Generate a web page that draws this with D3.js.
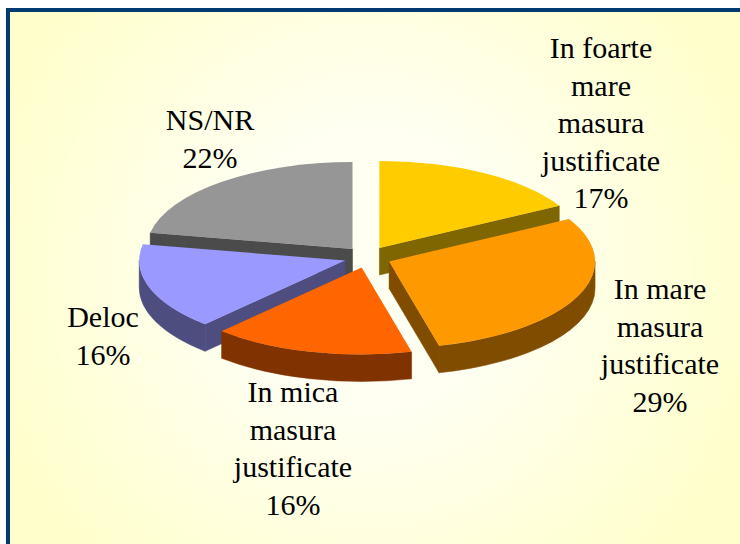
<!DOCTYPE html>
<html><head><meta charset="utf-8">
<script src="https://cdn.jsdelivr.net/npm/d3@7/dist/d3.min.js"></script>
<style>html,body{margin:0;padding:0;background:#fff}svg{display:block}text{font-family:"Liberation Serif",serif;font-size:30px;fill:#000;text-anchor:middle}</style>
</head><body><svg id="c" width="740" height="544"></svg>
<script>
const categories = ["In foarte mare masura justificate","In mare masura justificate","In mica masura justificate","Deloc","NS/NR"];
const values = [16.9,29.2,15.8,16.1,22];
const topColors = ["#ffcc00","#ff9900","#ff6600","#9999ff","#969696"];
const sideColors = ["#806600","#804d00","#803300","#4d4d80","#4b4b4b"];
const labelLines = [["In foarte","mare","masura","justificate","17%"],["In mare","masura","justificate","29%"],["In mica","masura","justificate","16%"],["Deloc","16%"],["NS/NR","22%"]];
const labelAnchors = [[601,58],[660,299],[293,402],[103,327],[210,130]];
const drawOrder = [4,0,3,1,2];

const W=740,H=544,cx=367.5,cy=257.2,rx=206,ry=87,depth=27,ex=23.5,ey=10.6,lh=37.6;
const svg=d3.select("#c");
const defs=svg.append("defs");
const g=defs.append("radialGradient").attr("id","bg").attr("gradientUnits","userSpaceOnUse")
  .attr("cx",370).attr("cy",270).attr("r",400);
g.append("stop").attr("offset","0.35").attr("stop-color","#fffff2");
g.append("stop").attr("offset","1").attr("stop-color","#ffffcc");
svg.append("rect").attr("x",8).attr("y",10).attr("width",W).attr("height",H)
  .attr("fill","url(#bg)").attr("stroke","#003a70").attr("stroke-width",4);

const arcs=d3.pie().sort(null).value(d=>d)(values);
const k=ry/rx;
const arc=d3.arc().innerRadius(0).outerRadius(rx);
const pt=(a,ox,oy)=>[ox+rx*Math.sin(a),oy-ry*Math.cos(a)];
const rim=(a0,a1,ox,oy)=>{
  const s=Math.max(a0,Math.PI/2),e=Math.min(a1,Math.PI*1.5);
  if(e<=s)return null;
  const p=pt(s,ox,oy),q=pt(e,ox,oy);
  return `M${p}A${rx},${ry} 0 0 1 ${q}L${q[0]},${q[1]+depth}A${rx},${ry} 0 0 0 ${p[0]},${p[1]+depth}Z`;
};
const wall=(a,ox,oy)=>{const p=pt(a,ox,oy);return `M${ox},${oy}L${p}L${p[0]},${p[1]+depth}L${ox},${oy+depth}Z`;};
drawOrder.forEach(i=>{
  const s=arcs[i],m=(s.startAngle+s.endAngle)/2;
  const ox=cx+ex*Math.sin(m),oy=cy-ey*Math.cos(m);
  const G=svg.append("g");
  const side=G.append("g").attr("fill",sideColors[i]).attr("stroke",sideColors[i]).attr("stroke-width",0.5);
  if(Math.sin(s.startAngle)<-1e-6) side.append("path").attr("d",wall(s.startAngle,ox,oy));
  if(Math.sin(s.endAngle)>1e-6) side.append("path").attr("d",wall(s.endAngle,ox,oy));
  const r=rim(s.startAngle,s.endAngle,ox,oy);
  if(r) side.append("path").attr("d",r);
  G.append("path").attr("d",arc(s)).attr("fill",topColors[i])
   .attr("transform",`translate(${ox},${oy}) scale(1,${k})`);
});
labelLines.forEach((ls,i)=>{
  const t=svg.append("text").attr("x",labelAnchors[i][0]);
  ls.forEach((l,j)=>t.append("tspan").attr("x",labelAnchors[i][0]).attr("y",labelAnchors[i][1]+j*lh).text(l));
});
</script></body></html>
